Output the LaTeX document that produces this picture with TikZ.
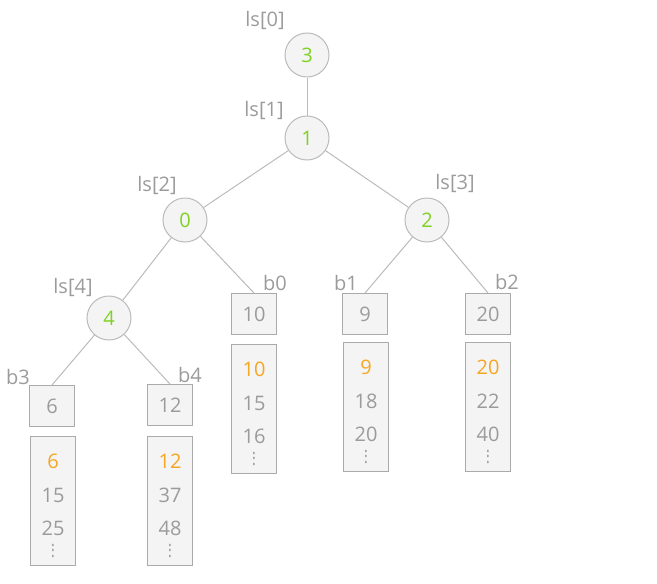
\documentclass[tikz,border=0pt]{standalone}
\usepackage{fontspec}
\setmainfont{Open Sans}
\usetikzlibrary{positioning}
\definecolor{labelgray}{HTML}{9B9B9B}
\definecolor{linegray}{HTML}{BBBBBB}
\definecolor{boxline}{HTML}{AAAAAA}
\definecolor{paleface}{HTML}{F4F4F4}
\definecolor{leafgreen}{HTML}{7ED321}
\definecolor{minorange}{HTML}{F5A623}

\tikzset{
  treenode/.style={circle, draw=linegray, fill=paleface, line width=1pt,
    minimum size=44pt, inner sep=0pt, text=leafgreen,
    font=\fontsize{20}{20}\selectfont},
  keybox/.style={rectangle, draw=boxline, fill=paleface, line width=1pt,
    minimum width=45pt, minimum height=41pt, inner sep=0pt, text=labelgray,
    font=\fontsize{20}{20}\selectfont},
  listbox/.style={rectangle, draw=boxline, fill=paleface, line width=1pt,
    minimum width=45pt, minimum height=129pt, inner sep=0pt},
  runtext/.style={text=labelgray, inner sep=0pt, align=center,
    font=\fontsize{20}{33.5}\selectfont},
  moredots/.style={text=labelgray, inner sep=0pt,
    font=\fontsize{14}{14}\selectfont},
  tag/.style={text=labelgray, inner sep=0pt, font=\fontsize{20}{20}\selectfont},
  edge/.style={draw=linegray, line width=1pt}
}

\begin{document}
\begin{tikzpicture}[x=1pt,y=-1pt]
  \useasboundingbox (0,0) rectangle (657,584);

  % loser tree
  \node[treenode] (n3) at (307,55) {3};
  \node[treenode] (n1) at (307,138) {1};
  \node[treenode] (n0) at (185,220) {0};
  \node[treenode] (n2) at (427,220) {2};
  \node[treenode] (n4) at (109,318) {4};

  \node[tag] (t0) at (265,20) {ls[0]};
  \node[tag] (t1) at (264,110) {ls[1]};
  \node[tag] (t2) at (157,185) {ls[2]};
  \node[tag] (t3) at (455,183) {ls[3]};
  \node[tag] (t4) at (73,287) {ls[4]};

  % leaf keys
  \node[keybox] (k0) at (254,314) {10};
  \node[keybox] (k1) at (365,314) {9};
  \node[keybox] (k2) at (488,314) {20};
  \node[keybox] (k3) at (52,406) {6};
  \node[keybox] (k4) at (170,405) {12};

  \node[tag] (l0) at (275,283) {b0};
  \node[tag] (l1) at (346,283) {b1};
  \node[tag] (l2) at (507,282) {b2};
  \node[tag] (l3) at (18,377) {b3};
  \node[tag] (l4) at (190,375) {b4};

  % sorted runs
  \node[listbox] (r0) at (254,409) {};
  \node[listbox] (r1) at (366,407) {};
  \node[listbox] (r2) at (488,407) {};
  \node[listbox] (r3) at (53,501) {};
  \node[listbox] (r4) at (170,501) {};

  \node[runtext, below=18pt of r0.north] (v0) {{\color{minorange}10}\\15\\16};
  \node[runtext, below=18pt of r1.north] (v1) {{\color{minorange}9}\\18\\20};
  \node[runtext, below=18pt of r2.north] (v2) {{\color{minorange}20}\\22\\40};
  \node[runtext, below=18pt of r3.north] (v3) {{\color{minorange}6}\\15\\25};
  \node[runtext, below=18pt of r4.north] (v4) {{\color{minorange}12}\\37\\48};

  \node[moredots, above=8pt of r0.south] (d0) {\scalebox{1}[1.4]{\vdots}};
  \node[moredots, above=8pt of r1.south] (d1) {\scalebox{1}[1.4]{\vdots}};
  \node[moredots, above=8pt of r2.south] (d2) {\scalebox{1}[1.4]{\vdots}};
  \node[moredots, above=8pt of r3.south] (d3) {\scalebox{1}[1.4]{\vdots}};
  \node[moredots, above=8pt of r4.south] (d4) {\scalebox{1}[1.4]{\vdots}};

  \draw[edge] (n3) -- (n1);
  \draw[edge] (n1) -- (n0);
  \draw[edge] (n1) -- (n2);
  \draw[edge] (n0) -- (n4);
  \draw[edge] (n0) -- (k0.north);
  \draw[edge] (n2) -- (k1.north);
  \draw[edge] (n2) -- (k2.north);
  \draw[edge] (n4) -- (k3.north);
  \draw[edge] (n4) -- (k4.north);
\end{tikzpicture}
\end{document}
